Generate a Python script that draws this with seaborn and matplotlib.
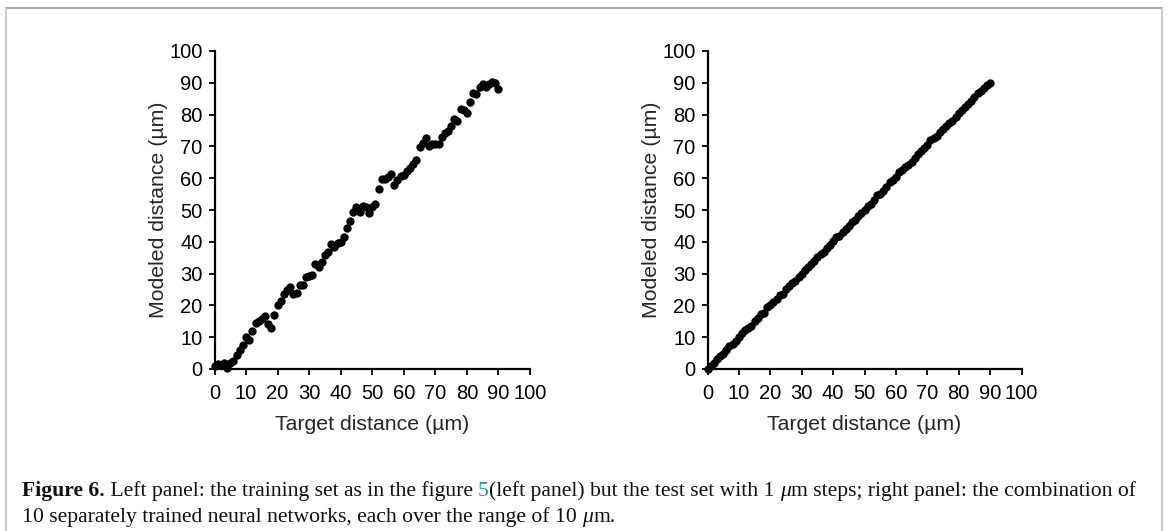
import numpy as np
import pandas as pd
import matplotlib
matplotlib.use("Agg")
import matplotlib.pyplot as plt
import seaborn as sns
from matplotlib.lines import Line2D

# ---------------- data ----------------
target_left = list(range(0, 91))
modeled_left = [1.0, 1.5, 1.2, 2.0, 0.2, 2.0, 2.6, 4.5, 6.0, 7.5,
                10.0, 9.0, 12.0, 14.5, 15.0, 15.8, 16.7, 14.0, 12.8, 17.0,
                20.0, 21.5, 23.5, 25.0, 25.7, 23.6, 23.8, 26.4, 26.4, 29.0,
                29.3, 29.5, 33.0, 32.0, 33.5, 35.8, 36.7, 39.3, 38.5, 39.5,
                40.0, 41.4, 44.4, 46.6, 49.5, 50.8, 49.5, 51.3, 51.0, 49.0,
                51.0, 51.8, 56.6, 59.6, 59.7, 60.5, 61.3, 57.9, 59.4, 60.7,
                61.0, 62.4, 63.3, 64.5, 65.7, 69.7, 71.2, 72.5, 70.0, 70.8,
                70.8, 70.8, 72.8, 74.3, 75.0, 76.4, 78.5, 78.0, 81.7, 81.4,
                80.6, 84.0, 86.7, 86.5, 88.8, 89.6, 88.6, 89.5, 90.1, 89.8,
                88.0]

target_right = list(range(0, 91))
modeled_right = [0.1, 1.1, 1.9, 3.1, 4.0, 4.8, 6.1, 7.2, 7.9, 8.8,
                 10.2, 11.3, 12.4, 13.0, 13.4, 15.0, 16.0, 17.3, 17.6, 19.4,
                 20.0, 21.0, 22.1, 23.3, 23.7, 25.2, 26.0, 27.1, 27.8, 29.0,
                 30.0, 31.2, 32.2, 32.9, 34.0, 35.2, 36.3, 36.9, 38.0, 39.1,
                 40.2, 41.4, 41.8, 43.0, 44.0, 45.1, 46.3, 47.0, 48.0, 49.2,
                 50.0, 51.4, 52.0, 53.1, 54.6, 55.0, 56.0, 57.3, 58.7, 59.4,
                 60.4, 61.8, 62.7, 63.4, 64.3, 65.2, 66.3, 67.6, 68.7, 69.6,
                 70.3, 72.0, 72.6, 73.4, 74.5, 75.5, 76.5, 77.4, 78.0, 79.3,
                 80.4, 81.6, 82.5, 83.3, 84.3, 85.6, 86.8, 87.4, 88.3, 89.2,
                 90.0]

x_ticks = [0, 10, 20, 30, 40, 50, 60, 70, 80, 90, 100]
y_ticks = [0, 10, 20, 30, 40, 50, 60, 70, 80, 90, 100]
x_label = "Target distance (µm)"
y_label = "Modeled distance (µm)"

# ---------------- style ----------------
sns.set_style("ticks")
plt.rcParams['font.family'] = ['Liberation Sans', 'DejaVu Sans']

W, H = 1168, 531
fig = plt.figure(figsize=(W / 100, H / 100), dpi=100)

def ax_rect(x0, x1, y0, y1):
    # pixel coords (top-left origin) -> figure fraction
    return [x0 / W, 1 - y1 / H, (x1 - x0) / W, (y1 - y0) / H]

ax_l = fig.add_axes(ax_rect(214.5, 530, 51, 369))
ax_r = fig.add_axes(ax_rect(707.5, 1021.5, 51, 369))

panels = [(ax_l, target_left, modeled_left), (ax_r, target_right, modeled_right)]
for ax, xs, ys in panels:
    df = pd.DataFrame({"target": xs, "modeled": ys})
    sns.scatterplot(data=df, x="target", y="modeled", ax=ax, color="black",
                    s=36, linewidth=0, edgecolor="black", zorder=3, clip_on=False)
    ax.set_xlim(0, 100)
    ax.set_ylim(0, 100)
    ax.set_xticks(x_ticks)
    ax.set_yticks(y_ticks)
    ax.set_xticklabels([str(t) for t in x_ticks])
    ax.set_yticklabels([str(t) for t in y_ticks])
    for s in ["top", "right"]:
        ax.spines[s].set_visible(False)
    for s in ["left", "bottom"]:
        ax.spines[s].set_linewidth(1.6)
        ax.spines[s].set_color("black")
    ax.tick_params(axis="both", direction="out", length=4.5, width=1.3,
                   labelsize=14.5, colors="black")
    ax.tick_params(axis="x", pad=6)
    ax.tick_params(axis="y", pad=4)
    ax.set_xlabel(x_label, fontsize=15.3, labelpad=9)
    ax.set_ylabel(y_label, fontsize=15.3, labelpad=1)
    ax.set_facecolor("white")

# ---------------- frame ----------------
fig.add_artist(Line2D([6 / W, 1162 / W], [1 - 8 / H, 1 - 8 / H],
                      transform=fig.transFigure, color="#a6a6a6", lw=1.5))
fig.add_artist(Line2D([6 / W, 6 / W], [0, 1 - 8 / H],
                      transform=fig.transFigure, color="#cccccc", lw=1.5))
fig.add_artist(Line2D([1162 / W, 1162 / W], [0, 1 - 8 / H],
                      transform=fig.transFigure, color="#cccccc", lw=1.5))

# ---------------- caption ----------------
fig.canvas.draw()
renderer = fig.canvas.get_renderer()
serif = ['Liberation Serif', 'DejaVu Serif']
blue = "#2b8cc4"

line1 = [("Figure 6.", dict(weight="bold")),
         (" Left panel: the training set as in the figure ", {}),
         ("5", dict(color=blue)),
         ("(left panel) but the test set with 1 ", {}),
         ("μ", dict(style="italic")),
         ("m steps; right panel: the combination of", {})]
line2 = [("10 separately trained neural networks, each over the range of 10 ", {}),
         ("μ", dict(style="italic")),
         ("m.", {})]

def draw_runs(runs, x_px, y_px, size):
    x = x_px
    texts = []
    for txt, kw in runs:
        props = dict(family=serif, fontsize=size, color="#111111")
        props.update(kw)
        t = fig.text(x / W, 1 - y_px / H, txt, ha="left", va="baseline", **props)
        bb = t.get_window_extent(renderer=renderer)
        x = bb.x1
        texts.append(t)
    return texts, x

# fit first caption line to span from x=22 to x=1143 px
trial, end = draw_runs(line1, 22, 496, 15.0)
for t in trial:
    t.remove()
cap_size = 15.0 * (1143 - 22) / (end - 22)
draw_runs(line1, 22, 496, cap_size)
draw_runs(line2, 22, 522, cap_size)

fig.savefig("out.png", dpi=100, facecolor="white")
